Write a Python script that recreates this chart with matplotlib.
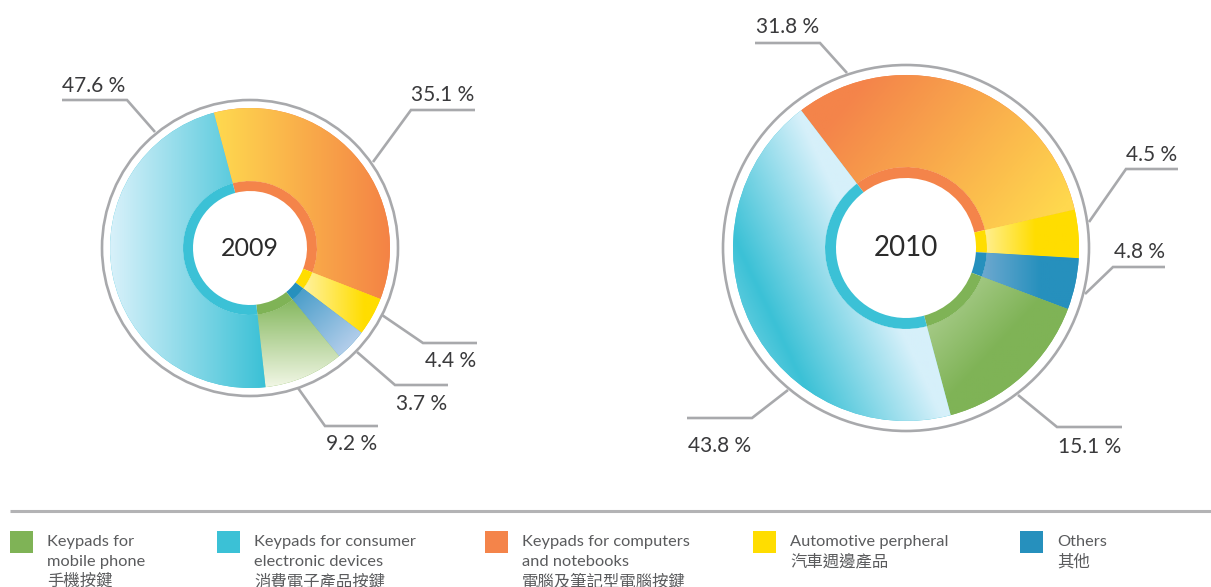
import numpy as np
import matplotlib
matplotlib.use("Agg")
import matplotlib.pyplot as plt
from matplotlib.colors import LinearSegmentedColormap
from matplotlib.patches import Circle, Rectangle

W, H = 1211, 587

# data (legend order)
categories = ["mobile", "consumer", "computers", "auto", "others"]
legend_en = ["Keypads for\nmobile phone", "Keypads for consumer\nelectronic devices",
             "Keypads for computers\nand notebooks", "Automotive perpheral", "Others"]
legend_zh = ["手機按鍵", "消費電子產品按鍵", "電腦及筆記型電腦按鍵", "汽車週邊產品", "其他"]
years = ["2009", "2010"]
share_2009 = [9.2, 47.6, 35.1, 4.4, 3.7]
share_2010 = [15.1, 43.8, 31.8, 4.5, 4.8]

solid = ["#7fb356", "#3bc1d6", "#f4844a", "#ffdd00", "#2690bd"]
pie_order = [2, 3, 4, 0, 1]   # clockwise from the start angle

grey = "#a8a9ac"
txt = "#3a3a3c"
FONT = ["Lato", "Noto Sans CJK TC", "DejaVu Sans"]

# donut geometry in image pixels: cx, cy, ring r_white, r_ring, r_out, r_grey, start angle
donuts = [
    dict(cx=250, cy=248, rw=57, rr=67, ro=140, rg=148, start=105, fs=18),
    dict(cx=906, cy=248, rw=70, rr=81, ro=173, rg=183, start=127.3, fs=20),
]

# gradient per wedge: p0, p1 offsets from centre (image px, y down), colour stops
grads = [
    {
        "mobile": ((0, 50), (0, 140), ["#84b75d", "#f2f7e6"]),
        "consumer": ((-140, 0), (15, 0), ["#d8f1fa", "#3bc1d6"]),
        "computers": ((-35, 0), (140, 0), ["#ffd94f", "#f48345"]),
        "auto": ((50, 0), (115, 0), ["#fff3a8", "#ffdd00"]),
        "others": ((35, 25), (105, 100), ["#2a8fc0", "#b8d0ec"]),
    },
    {
        "mobile": ((20, 25), (95, 95), ["#b9d6a0", "#7fb356"]),
        "consumer": ((-156, 74), (-36, 17),
                     [(0.0, "#55c9dc"), (0.16, "#3bc1d6"), (1.0, "#d6f0fa")]),
        "computers": ((-40, -170), (140, -20), ["#f4844a", "#ffd84e"]),
        "auto": ((75, 0), (130, 0), ["#fff09a", "#ffdd00"]),
        "others": ((75, 0), (135, 0), ["#6fa9d0", "#2690bd"]),
    },
]

# leader lines (image px) and label anchor (centre x, baseline y), per category
leaders = [
    {
        "consumer": ([(62, 100), (127, 100), (155, 132)], (94, 92)),
        "computers": ([(475, 110), (411, 110), (373, 162)], (443, 101)),
        "auto": ([(382, 315), (423, 343), (477, 343)], (451, 367)),
        "others": ([(357, 352), (395, 385), (448, 385)], (422, 410)),
        "mobile": ([(298, 388), (325, 426), (378, 426)], (352, 450)),
    },
    {
        "computers": ([(755, 43), (820, 43), (847, 73)], (788, 33)),
        "auto": ([(1089, 222), (1126, 169), (1178, 169)], (1152, 161)),
        "others": ([(1085, 294), (1113, 267), (1165, 267)], (1139, 258)),
        "mobile": ([(1018, 395), (1057, 427), (1122, 427)], (1090, 453)),
        "consumer": ([(788, 390), (752, 418), (687, 418)], (720, 452)),
    },
]


def grad_fill(ax, wedge, cx, cy, R, p0, p1, colors):
    n = 300
    xs = np.linspace(cx - R, cx + R, n)
    ys = np.linspace(cy - R, cy + R, n)
    X, Y = np.meshgrid(xs, ys)
    x0, y0 = cx + p0[0], cy - p0[1]
    x1, y1 = cx + p1[0], cy - p1[1]
    dx, dy = x1 - x0, y1 - y0
    t = ((X - x0) * dx + (Y - y0) * dy) / (dx * dx + dy * dy)
    t = np.clip(t, 0, 1)
    cmap = LinearSegmentedColormap.from_list("g", colors)
    im = ax.imshow(t, cmap=cmap, vmin=0, vmax=1, origin="lower",
                   extent=(cx - R, cx + R, cy - R, cy + R),
                   interpolation="bilinear", zorder=2)
    im.set_clip_path(wedge)


fig = plt.figure(figsize=(W / 100, H / 100), dpi=100)
ax = fig.add_axes([0, 0, 1, 1])

for k, shares in enumerate([share_2009, share_2010]):
    d = donuts[k]
    cx, cy = d["cx"], H - d["cy"]
    vals = [shares[i] for i in pie_order]
    cols = [solid[i] for i in pie_order]
    wedges, _ = ax.pie(vals, colors=cols, center=(cx, cy), radius=d["ro"],
                       startangle=d["start"], counterclock=False,
                       wedgeprops=dict(width=d["ro"] - d["rr"], linewidth=0))
    for w, i in zip(wedges, pie_order):
        p0, p1, gc = grads[k][categories[i]]
        grad_fill(ax, w, cx, cy, d["ro"], p0, p1, gc)
    # thin solid inner ring
    ax.pie(vals, colors=cols, center=(cx, cy), radius=d["rr"],
           startangle=d["start"], counterclock=False,
           wedgeprops=dict(width=d["rr"] - d["rw"], linewidth=0))
    ax.add_patch(Circle((cx, cy), d["rg"], fill=False, ec=grey, lw=1.9, zorder=4))
    ax.text(cx, cy, years[k], ha="center", va="center", fontsize=d["fs"],
            color="#2b2b2b", family=FONT, zorder=5)

    for i, cat in enumerate(categories):
        pts, (tx, ty) = leaders[k][cat]
        xs = [p[0] for p in pts]
        ys = [H - p[1] for p in pts]
        ax.plot(xs, ys, color=grey, lw=1.9, solid_capstyle="butt",
                solid_joinstyle="miter", zorder=3)
        ax.text(tx, H - ty, f"{shares[i]} %", ha="center", va="baseline",
                fontsize=15, color=txt, family=FONT)

# separator line
ax.plot([10, W], [H - 511, H - 511], color="#b3b3b5", lw=2.2, solid_capstyle="butt")

# legend
leg_x = [10, 217, 485, 753, 1020]
for i in range(len(categories)):
    x = leg_x[i]
    ax.add_patch(Rectangle((x, H - 553), 23, 22, color=solid[i], lw=0))
    lines = legend_en[i].split("\n") + [legend_zh[i]]
    for j, line in enumerate(lines):
        ax.text(x + 37, H - (546 + 20 * j), line, ha="left", va="baseline",
                fontsize=11.8, color="#5a5b5d", family=FONT)

ax.set_xlim(0, W)
ax.set_ylim(0, H)
ax.set_aspect("auto")
ax.axis("off")

fig.savefig("out.png", dpi=100)
